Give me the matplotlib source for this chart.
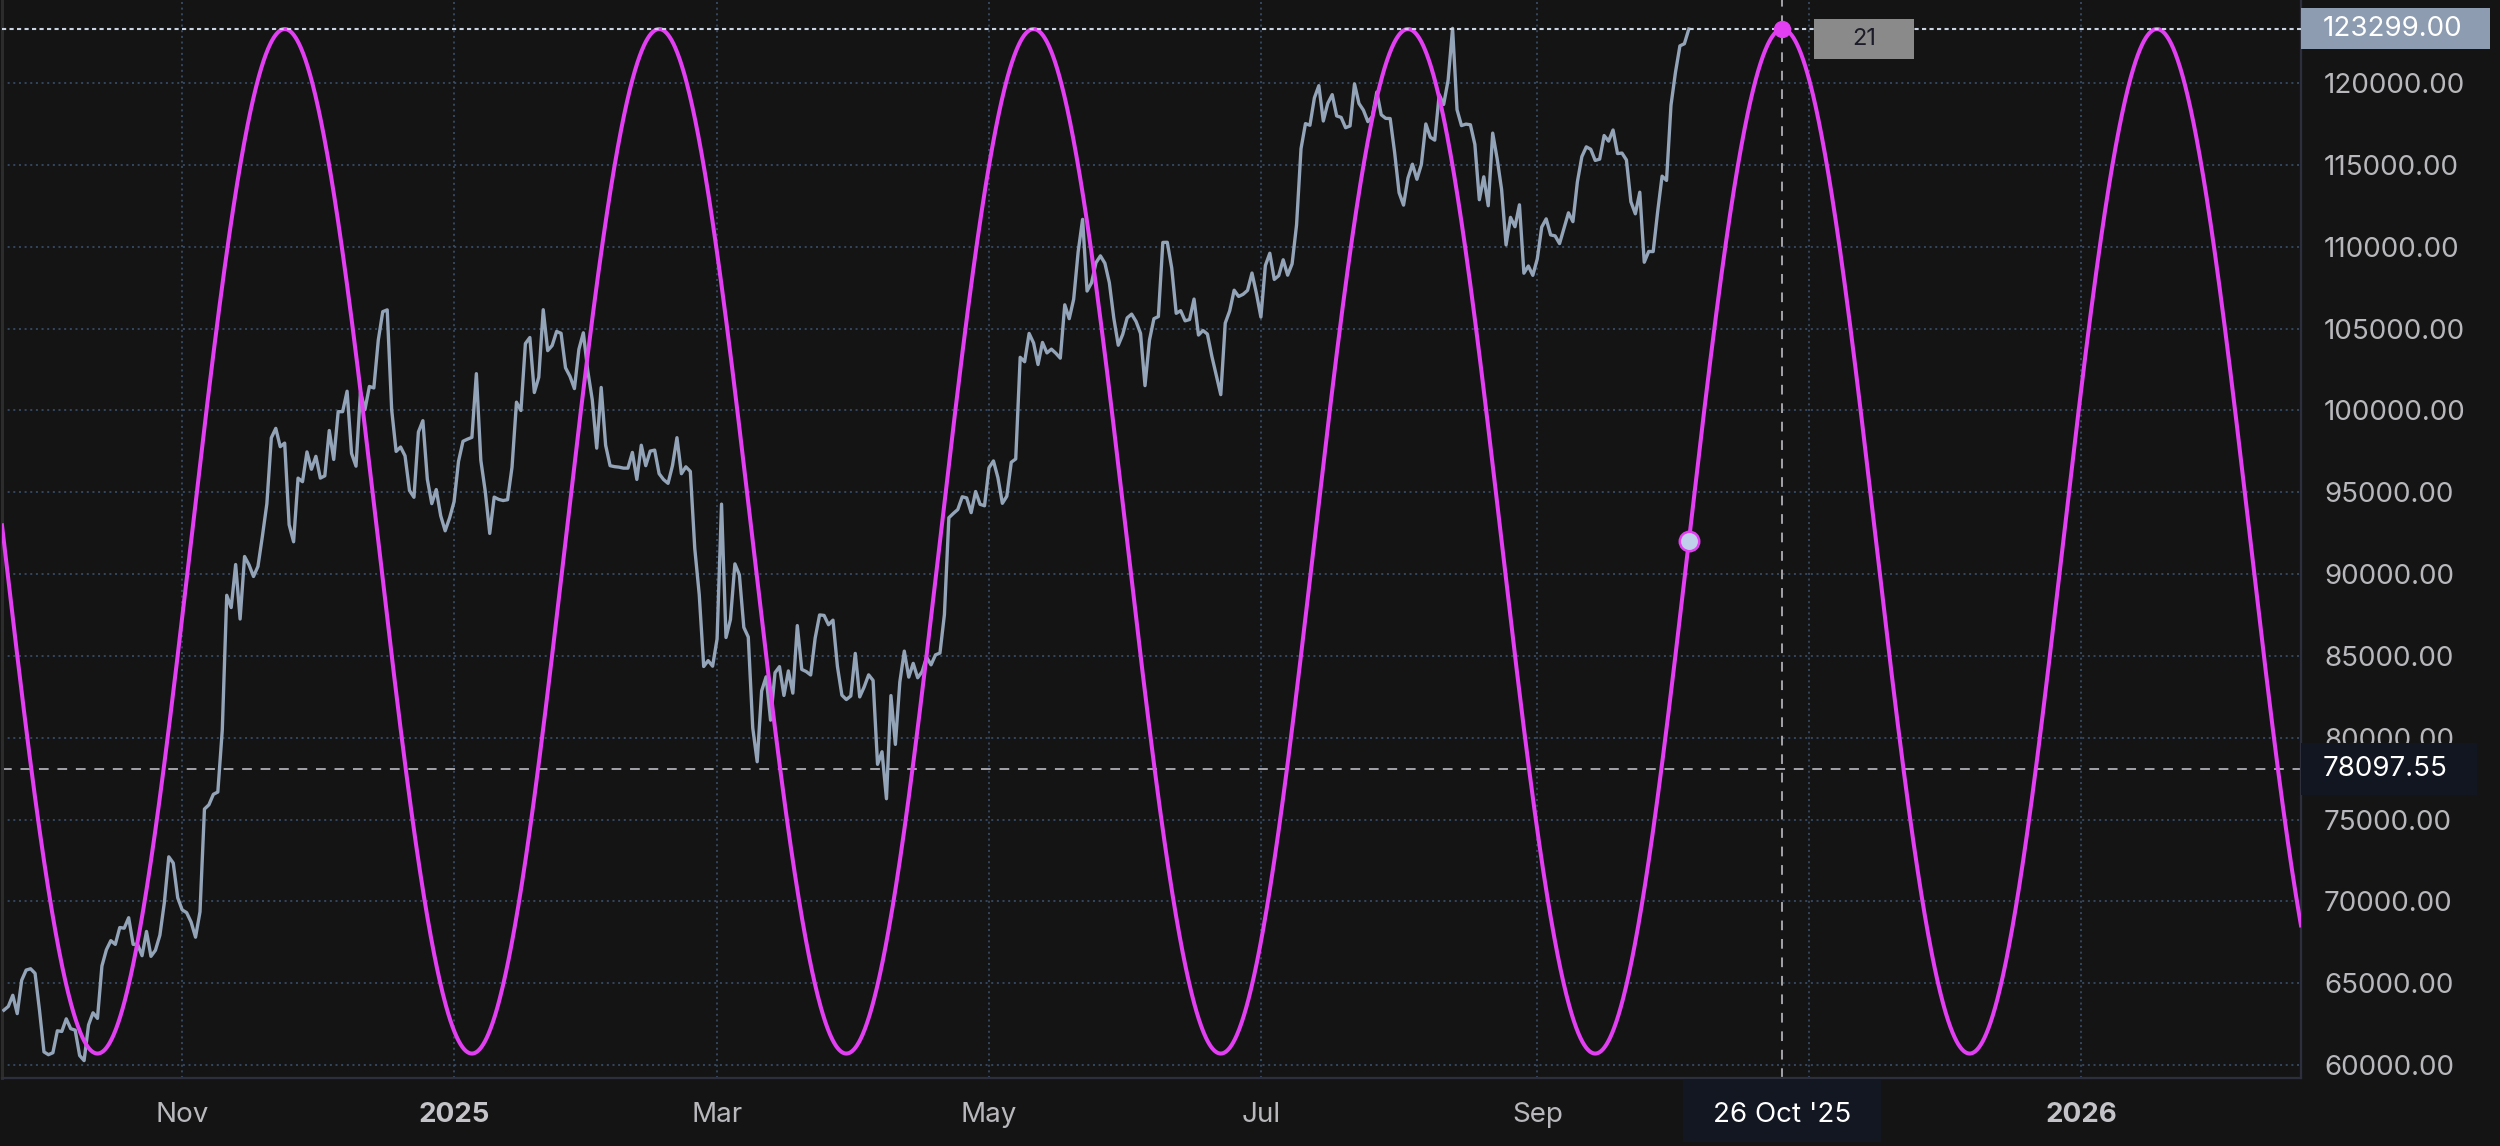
import numpy as np
import pandas as pd
import matplotlib
matplotlib.use("Agg")
import matplotlib.pyplot as plt
import matplotlib.dates as mdates
from matplotlib.patches import Rectangle
from matplotlib.transforms import IdentityTransform

plt.rcParams['font.family'] = ['Inter', 'DejaVu Sans']

# ---------------- data ----------------
PRICE_START = '2024-09-22'
close_2024_09 = [63350, 63580, 64260, 63140, 65180, 65800, 65880, 65600, 63330]
close_2024_10 = [60800, 60630, 60750, 62090, 62050, 62820, 62220, 62130, 60580, 60270,
                 62450, 63190, 62850, 66050, 67040, 67600, 67370, 68400, 68360, 69000,
                 67370, 67380, 66680, 68160, 66640, 67010, 67930, 69910, 72720, 72340, 70220]
close_2024_11 = [69480, 69310, 68740, 67810, 69360, 75640, 75900, 76540, 76680, 80470,
                 88700, 87950, 90580, 87250, 91070, 90560, 89850, 90460, 92310, 94290,
                 98320, 98900, 97780, 98000, 93010, 91970, 95860, 95640, 97460, 96400]
close_2024_12 = [97190, 95860, 96000, 98770, 97000, 99920, 99920, 101170, 97370, 96590,
                 101120, 100040, 101460, 101370, 104300, 106030, 106140, 100040, 97490, 97760,
                 97220, 95100, 94690, 98680, 99370, 95790, 94300, 95160, 93560, 92640, 93430]
close_2025_01 = [94420, 96890, 98110, 98240, 98350, 102240, 96950, 95040, 92480, 94700,
                 94560, 94490, 94540, 96530, 100500, 99990, 104080, 104450, 101090, 102020,
                 106150, 103650, 103960, 104820, 104710, 102600, 102080, 101330, 103730, 104740, 102400]
close_2025_02 = [100650, 97690, 101400, 97870, 96620, 96560, 96530, 96470, 96470, 97430,
                 95780, 97870, 96620, 97510, 97570, 96130, 95770, 95540, 96630, 98330,
                 96130, 96550, 96270, 91550, 88740, 84350, 84710, 84370]
close_2025_03 = [86030, 94270, 86120, 87220, 90620, 89960, 86740, 86150, 80600, 78530,
                 82860, 83720, 81070, 83970, 84340, 82580, 84080, 82720, 86850, 84170,
                 84040, 83830, 86080, 87500, 87470, 86900, 87180, 84350, 82600, 82330, 82550]
close_2025_04 = [85150, 82490, 83100, 83840, 83500, 78370, 79140, 76270, 82570, 79590,
                 83400, 85290, 83700, 84540, 83660, 84030, 84920, 84450, 85060, 85170,
                 87520, 93440, 93700, 93940, 94720, 94650, 93750, 95040, 94260, 94170]
close_2025_05 = [96490, 96910, 95890, 94320, 94750, 96830, 97030, 103240, 102970, 104700,
                 104120, 102800, 104150, 103510, 103740, 103490, 103190, 106450, 105600, 106790,
                 109680, 111670, 107290, 107790, 109020, 109440, 108990, 107800, 105640, 103980, 104640]
close_2025_06 = [105650, 105880, 105430, 104700, 101510, 104290, 105600, 105730, 110260, 110270,
                 108690, 105930, 106090, 105470, 105550, 106800, 104600, 104880, 104660, 103300,
                 102120, 100960, 105330, 106080, 107340, 106960, 107090, 107330, 108390, 107140]
close_2025_07 = [105700, 108850, 109600, 108000, 108230, 109200, 108260, 108950, 111330, 115990,
                 117520, 117420, 119090, 119840, 117680, 118760, 119290, 117990, 117900, 117270,
                 117380, 119950, 118750, 118340, 117640, 117950, 119450, 118060, 117840, 117830, 115760]
close_2025_08 = [113300, 112540, 114200, 115040, 114120, 115030, 117500, 116690, 116510, 119290,
                 118690, 120170, 123340, 118370, 117400, 117490, 117450, 116250, 112870, 114270,
                 112500, 116940, 115370, 113490, 110110, 111790, 111220, 112560, 108380, 108820, 108250]
close_2025_09 = [109250, 111200, 111700, 110720, 110660, 110190, 111140, 112070, 111530, 113960,
                 115500, 116100, 115950, 115270, 115350, 116790, 116450, 117130, 115690, 115720,
                 115300, 112750, 112010, 113330, 109050, 109710, 109700, 112120, 114310, 114050]
close_2025_10 = [118650, 120650, 122270, 122400, 123299]

CYCLE_DAYS = 84
CYCLE_PEAK = '2025-10-26'
CYCLE_HIGH = 123299.0
CYCLE_LOW = 60700.0
LEVEL_LINE = 78097.55

X_START = '2024-09-21 14:00'
X_END = '2026-02-19 08:00'
Y_MIN, Y_MAX = 59206, 125073
Y_TICKS = list(range(60000, 120001, 5000))
X_TICK_DATES = ['2024-11-01', '2025-01-01', '2025-03-01', '2025-05-01',
                '2025-07-01', '2025-09-01', '2025-11-01', '2026-01-01']
X_TICK_LABELS = ['Nov', '2025', 'Mar', 'May', 'Jul', 'Sep', '', '2026']
BOLD_LABELS = ['2025', '2026']
DATE_LABEL = "26 Oct '25"

# ---------------- styling ----------------
BG = '#141414'
GRID = '#3d5574'
PRICE_C = '#93a3b8'
MAG = '#e23ef2'
TXT = '#b8b8bc'
W, H = 2500, 1146

closes = (close_2024_09 + close_2024_10 + close_2024_11 + close_2024_12 + close_2025_01 +
          close_2025_02 + close_2025_03 + close_2025_04 + close_2025_05 + close_2025_06 +
          close_2025_07 + close_2025_08 + close_2025_09 + close_2025_10)
dates = pd.date_range(PRICE_START, periods=len(closes), freq='D')
xd = mdates.date2num(dates.to_pydatetime())

fig = plt.figure(figsize=(W / 100, H / 100), dpi=100, facecolor=BG)
ax = fig.add_axes([2 / W, 1 - 1078 / H, (2301 - 2) / W, 1078 / H])
ax.set_facecolor(BG)

x0 = mdates.date2num(pd.Timestamp(X_START).to_pydatetime())
x1 = mdates.date2num(pd.Timestamp(X_END).to_pydatetime())
ax.set_xlim(x0, x1)
ax.set_ylim(Y_MIN, Y_MAX)

# grid
xt = mdates.date2num(pd.to_datetime(X_TICK_DATES).to_pydatetime())
for v in xt:
    ax.axvline(v, color=GRID, lw=1.1, ls=(0, (1.3, 2.4)), zorder=1)
for v in Y_TICKS:
    ax.axhline(v, color=GRID, lw=1.1, ls=(0, (1.3, 2.4)), zorder=1)

# price
ax.plot(xd, closes, color=PRICE_C, lw=2.4, zorder=3, solid_joinstyle='round')

# cycle
peak = mdates.date2num(pd.Timestamp(CYCLE_PEAK).to_pydatetime())
mid = (CYCLE_HIGH + CYCLE_LOW) / 2
amp = (CYCLE_HIGH - CYCLE_LOW) / 2
t = np.linspace(x0, x1, 4000)
ax.plot(t, mid + amp * np.cos(2 * np.pi * (t - peak) / CYCLE_DAYS), color=MAG, lw=2.9, zorder=4)

# crosshair & levels
ax.axvline(peak, color='#a3a3aa', lw=1.4, ls=(0, (5, 4.5)), zorder=2)
ax.axhline(LEVEL_LINE, color='#a3a3aa', lw=1.4, ls=(0, (5, 4.5)), zorder=2)
ax.axhline(closes[-1], color='#c9d3e2', lw=1.5, ls=(0, (2, 1.6)), zorder=5)

# markers
cur_x = xd[-1]
cur_y = mid + amp * np.cos(2 * np.pi * (cur_x - peak) / CYCLE_DAYS)
ax.plot([cur_x], [cur_y], 'o', ms=14, mfc='#c0d0ea', mec=MAG, mew=1.8, zorder=6)
ax.plot([peak], [CYCLE_HIGH], 'o', ms=11.5, mfc=MAG, mec=MAG, zorder=6)

# axes / ticks
ax.spines['top'].set_visible(False)
ax.spines['left'].set_color('#2c2c2c')
ax.spines['left'].set_linewidth(2.2)
ax.spines['bottom'].set_color('#2d303c')
ax.spines['bottom'].set_linewidth(1.6)
ax.spines['right'].set_color('#2d303c')
ax.spines['right'].set_linewidth(1.6)

ax.yaxis.tick_right()
ax.set_yticks(Y_TICKS)
ax.set_yticklabels([f'{v:.2f}' for v in Y_TICKS])
ax.tick_params(axis='y', length=0, pad=16.5, labelsize=20, labelcolor=TXT)
ax.set_xticks(xt)
ax.set_xticklabels(X_TICK_LABELS)
ax.tick_params(axis='x', length=0, pad=17.5, labelsize=20, labelcolor=TXT)
for lab in ax.get_xticklabels():
    if lab.get_text() in BOLD_LABELS:
        lab.set_fontweight('bold')
        lab.set_color('#c4c4c8')

# ---------------- labels / boxes ----------------
fig.canvas.draw()


def px(xv, yv):
    return ax.transData.transform((xv, yv))


def box(xl, yb, w, h, fc, z=10):
    fig.add_artist(Rectangle((xl, yb), w, h, transform=IdentityTransform(),
                             facecolor=fc, edgecolor='none', zorder=z))


def label(x, y, s, color, size=20, ha='left', z=11):
    fig.text(x / W, y / H, s, color=color, fontsize=size, ha=ha, va='center', zorder=z)


right_px = px(x1, 0)[0]
# last price box
_, yp = px(x0, closes[-1])
box(right_px, yp - 20, 189, 41, '#8d9cb1')
label(right_px + 22, yp, f'{closes[-1]:.2f}', 'white')
# level box
_, yl = px(x0, LEVEL_LINE)
box(right_px, yl - 26, 176, 52, '#121620')
label(right_px + 22, yl, f'{LEVEL_LINE:.2f}', 'white')
# date box
xp, ypk = px(peak, CYCLE_HIGH)
box(xp - 99, H - 1142, 198, 63, '#131722')
label(xp, H - 1115, DATE_LABEL, 'white', ha='center')
# days-to-peak box
days_left = int(round(peak - cur_x))
box(xp + 32, ypk - 30, 100, 40, '#8a8a8a')
label(xp + 82, ypk - 10, str(days_left), '#1c1c28', size=17, ha='center')

fig.savefig('out.png', dpi=100, facecolor=BG)
